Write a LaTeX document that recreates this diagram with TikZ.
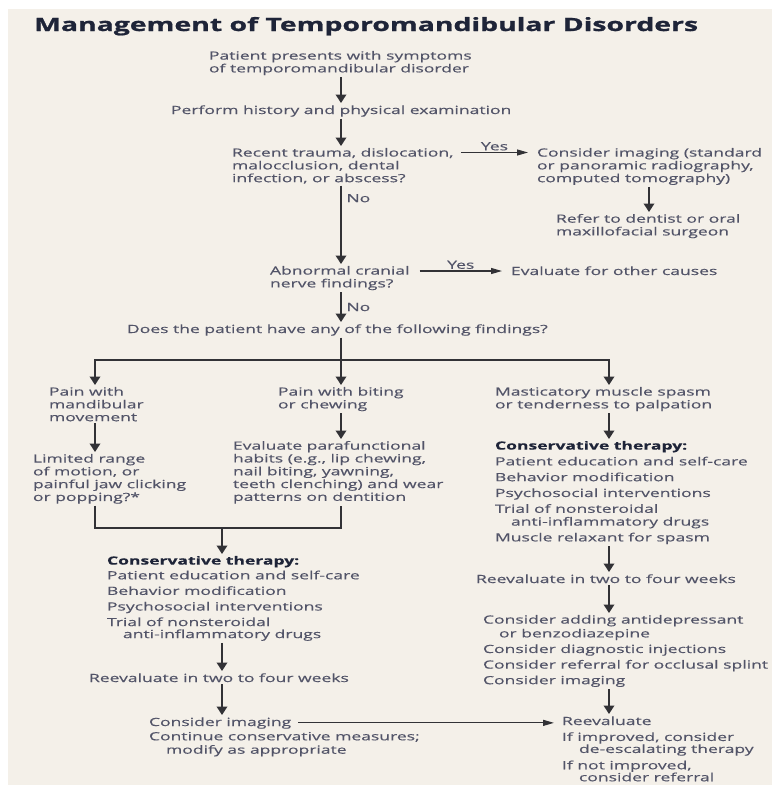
\documentclass[tikz,border=0pt]{standalone}
\usepackage{fontspec}
\newfontfamily\bodyfont[FakeStretch=1.55, FakeBold=0.35, BoldFeatures={FakeBold=0.5}]{Open Sans}
\newfontfamily\titlefont[FakeStretch=1.55, BoldFeatures={FakeBold=1.2}]{Open Sans}
\usetikzlibrary{arrows.meta}
\definecolor{bg}{RGB}{244,240,233}
\definecolor{txtc}{RGB}{82,84,104}
\definecolor{headc}{RGB}{30,36,56}
\definecolor{arrc}{RGB}{50,50,54}
\newcommand\condhead[1]{\textcolor{headc}{\bfseries #1}}
\begin{document}
\begin{tikzpicture}[x=1pt,y=-1pt,
  txt/.style={anchor=north west, yshift=11pt, inner xsep=0pt, inner ysep=2pt, outer sep=0pt,
    align=left, text=txtc, font=\bodyfont\fontsize{11.3}{12.8}\selectfont,
    execute at begin node={\rule{0pt}{9pt}}},
  lbl/.style={inner ysep=1.5pt, inner xsep=4.5pt, text=txtc, font=\bodyfont\fontsize{11.3}{12.8}\selectfont},
  varr/.style={draw=arrc, line width=2pt, -{Triangle[width=10.5pt,length=8.5pt]}},
  harr/.style={draw=arrc, line width=1.2pt, -{Triangle[width=6pt,length=11pt]}},
  conn/.style={draw=arrc, line width=1.6pt}
]
\useasboundingbox (0,0) rectangle (772,785);
\fill[white] (0,0) rectangle (772,785);
\fill[bg] (8,9) rectangle (772,785);

\coordinate (xM) at (341,0);
\coordinate (xR) at (649,0);
\coordinate (x1) at (95,0);
\coordinate (x3) at (609,0);
\coordinate (xL) at (222,0);

\node[anchor=base west, inner sep=0pt, text=headc,
  font=\titlefont\bfseries\fontsize{18.3}{20}\selectfont] (title) at (34,31)
  {Management of Temporomandibular Disorders};

\node[txt] (n1) at (209,60) {Patient presents with symptoms\\of temporomandibular disorder};
\node[txt] (n2) at (171,114) {Perform history and physical examination};
\node[txt] (n3) at (232,157) {Recent trauma, dislocation,\\malocclusion, dental\\infection, or abscess?};
\node[txt] (n4) at (537,157) {Consider imaging (standard\\or panoramic radiography,\\computed tomography)};
\node[txt] (n5) at (556,223) {Refer to dentist or oral\\maxillofacial surgeon};
\node[txt] (n6) at (270,275) {Abnormal cranial\\nerve findings?};
\node[txt] (n7) at (511,275) {Evaluate for other causes};
\node[txt] (n8) at (127,333) {Does the patient have any of the following findings?};

\node[txt] (a1) at (49,396) {Pain with\\mandibular\\movement};
\node[txt] (a2) at (33,463) {Limited range\\of motion, or\\painful jaw clicking\\or popping?*};
\node[txt] (b1) at (278,396) {Pain with biting\\or chewing};
\node[txt] (b2) at (233,450) {Evaluate parafunctional\\habits (e.g., lip chewing,\\nail biting, yawning,\\teeth clenching) and wear\\patterns on dentition};

\node[txt] (L1) at (107,565) {\condhead{Conservative therapy:}\\[1.9pt]
  Patient education and self-care\\[2.8pt]
  Behavior modification\\[2.8pt]
  Psychosocial interventions\\[2.8pt]
  Trial of nonsteroidal\\[-0.8pt]
  \hspace*{16pt}anti-inflammatory drugs};
\node[txt] (L2) at (89,682) {Reevaluate in two to four weeks};
\node[txt] (L3a) at (149,726) {Consider imaging};
\node[txt] (L3b) at (149,741) {Continue conservative measures;\\[0.6pt]\hspace*{17pt}modify as appropriate};

\node[txt] (c1) at (495,396) {Masticatory muscle spasm\\or tenderness to palpation};
\node[txt] (c2) at (495,450) {\condhead{Conservative therapy:}\\[3pt]
  Patient education and self-care\\[3pt]
  Behavior modification\\[3pt]
  Psychosocial interventions\\[3pt]
  Trial of nonsteroidal\\
  \hspace*{16pt}anti-inflammatory drugs\\[3pt]
  Muscle relaxant for spasm};
\node[txt] (c3) at (476,583) {Reevaluate in two to four weeks};
\node[txt] (c4) at (483,624) {Consider adding antidepressant\\[1pt]
  \hspace*{16pt}or benzodiazepine\\[2.8pt]
  Consider diagnostic injections\\[2.8pt]
  Consider referral for occlusal splint\\[2.8pt]
  Consider imaging};
\node[txt] (c5a) at (562,725) {Reevaluate};
\node[txt] (c5b) at (562,741.3) {If improved, consider\\[-0.8pt]
  \hspace*{17pt}de-escalating therapy\\[3.5pt]
  If not improved,\\[-0.8pt]
  \hspace*{17pt}consider referral};

% main column
\draw[varr] (n1.south -| xM) -- (n2.north -| xM);
\draw[varr] (n2.south -| xM) -- (n3.north -| xM);
\draw[harr] ([xshift=7.5pt,yshift=-6.5pt]n3.north east) --
  node[lbl, above] (yes1) {Yes} ([xshift=-9pt,yshift=-6.5pt]n4.north west);
\draw[varr] (n4.south -| xR) -- (n5.north -| xR);
\draw[varr] (n3.south -| xM) -- node[lbl, right, pos=0.16] (no1) {No} (n6.north -| xM);
\draw[harr] ([xshift=10pt,yshift=-7pt]n6.north east) --
  node[lbl, above] (yes2) {Yes} ([xshift=-9pt,yshift=-7pt]n7.north west);
\draw[varr] (n6.south -| xM) -- node[lbl, right] (no2) {No} (n8.north -| xM);

% branching
\coordinate (br) at (341,360);
\draw[conn] (n8.south -| xM) -- (br);
\draw[conn] ([xshift=-0.8pt]br -| x1) -- ([xshift=0.8pt]br -| x3);
\draw[varr] (br -| x1) -- (a1.north -| x1);
\draw[varr] (br -| xM) -- (b1.north -| xM);
\draw[varr] (br -| x3) -- (c1.north -| x3);

% left columns
\draw[varr] (a1.south -| x1) -- (a2.north -| x1);
\draw[varr] (b1.south -| xM) -- (b2.north -| xM);
\coordinate (mg) at (222,528);
\draw[conn] (a2.south -| x1) -- (mg -| x1) -- (mg -| xM) -- (b2.south -| xM);
\draw[varr] (mg) -- (L1.north -| xL);
\draw[varr] (L1.south -| xL) -- (L2.north -| xL);
\draw[varr] (L2.south -| xL) -- (L3a.north -| xL);
\draw[harr] ([xshift=7pt]L3a.east) -- ([xshift=-8pt]L3a.east -| c5a.west);

% right column
\draw[varr] (c1.south -| x3) -- (c2.north -| x3);
\draw[varr] (c2.south -| x3) -- (c3.north -| x3);
\draw[varr] (c3.south -| x3) -- (c4.north -| x3);
\draw[varr] (c4.south -| x3) -- (c5a.north -| x3);
\end{tikzpicture}
\end{document}
